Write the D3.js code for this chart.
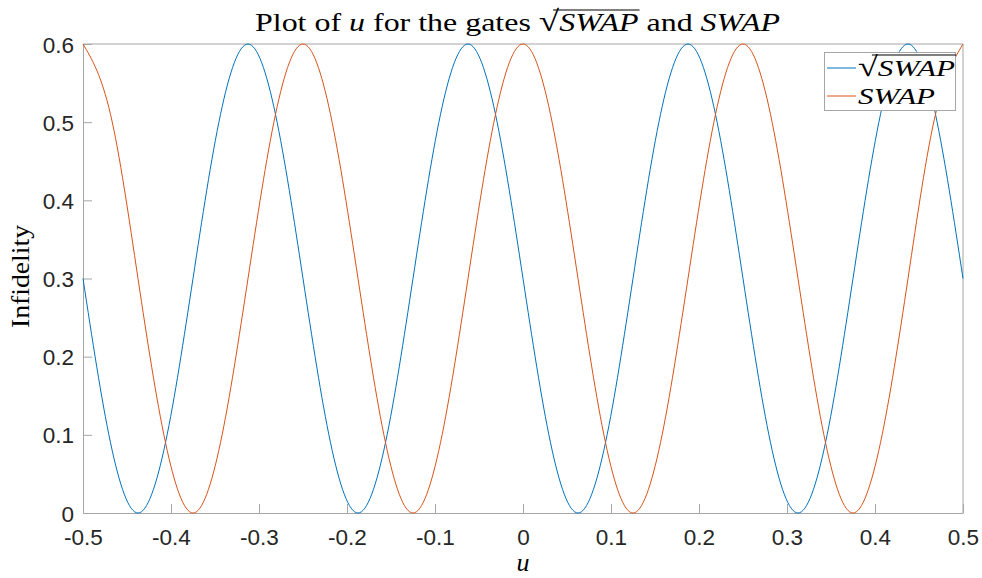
<!DOCTYPE html>
<html>
<head>
<meta charset="utf-8">
<script src="https://cdn.jsdelivr.net/npm/d3@7"></script>
<style>
  body { margin: 0; background: #fff; }
  svg { display: block; }
</style>
</head>
<body>
<div id="chart"></div>
<script>
// values, one sample every 1/32 of u
const uValues = d3.range(33).map((i) => -0.5 + i / 32);
const sqrtSwapValues = [
  0.3, 0.09, 0, 0.09, 0.3, 0.51, 0.6, 0.51,
  0.3, 0.09, 0, 0.09, 0.3, 0.51, 0.6, 0.51,
  0.3, 0.09, 0, 0.09, 0.3, 0.51, 0.6, 0.51,
  0.3, 0.09, 0, 0.09, 0.3, 0.51, 0.6, 0.51,
  0.3
];
const swapValues = [
  0.6, 0.51, 0.3, 0.09, 0, 0.09, 0.3, 0.51,
  0.6, 0.51, 0.3, 0.09, 0, 0.09, 0.3, 0.51,
  0.6, 0.51, 0.3, 0.09, 0, 0.09, 0.3, 0.51,
  0.6, 0.51, 0.3, 0.09, 0, 0.09, 0.3, 0.51,
  0.6
];
const xTicks = [-0.5, -0.4, -0.3, -0.2, -0.1, 0, 0.1, 0.2, 0.3, 0.4, 0.5];
const yTicks = [0, 0.1, 0.2, 0.3, 0.4, 0.5, 0.6];

const width = 982;
const height = 578;
const margin = { top: 44, right: 19, bottom: 65, left: 83 };
const serif = "'Liberation Serif', 'Times New Roman', serif";
const sans = "'Liberation Sans', Arial, sans-serif";
const grey = '#a6a6a6';

const svg = d3
  .select('#chart')
  .append('svg')
  .attr('width', width)
  .attr('height', height);

const x = d3.scaleLinear().domain([-0.5, 0.5]).range([margin.left, width - margin.right]);
const y = d3.scaleLinear().domain([0, 0.6]).range([height - margin.bottom, margin.top]);

// matlab style labels: hyphen minus, plain 0
const fmt = (d) => (d === 0 ? '0' : d3.format('.1f')(d).replace('\u2212', '-'));

// box top and right
svg
  .append('path')
  .attr('d', `M${x(-0.5)},${y(0.6)}H${x(0.5)}V${y(0)}`)
  .attr('fill', 'none')
  .attr('stroke', grey)
  .attr('stroke-width', 1);

// axes with ticks pointing inward
const xAxis = svg
  .append('g')
  .attr('transform', `translate(0,${y(0)})`)
  .call(d3.axisBottom(x).tickValues(xTicks).tickSizeInner(-9).tickSizeOuter(0).tickPadding(16).tickFormat(fmt));

const yAxis = svg
  .append('g')
  .attr('transform', `translate(${x(-0.5)},0)`)
  .call(d3.axisLeft(y).tickValues(yTicks).tickSizeInner(-9).tickSizeOuter(0).tickPadding(9).tickFormat(fmt));

[xAxis, yAxis].forEach((a) => {
  a.select('.domain').attr('stroke', grey);
  a.selectAll('.tick line').attr('stroke', grey);
  a.selectAll('.tick text')
    .attr('font-family', sans)
    .attr('font-size', 22.5)
    .attr('fill', '#262626');
});
yAxis.selectAll('.tick text').attr('dy', '0.36em');

// curves
const line = (vals) =>
  d3
    .line()
    .x((d, i) => x(uValues[i]))
    .y((d) => y(d))
    .curve(d3.curveNatural)(vals);

svg
  .append('path')
  .attr('d', line(sqrtSwapValues))
  .attr('fill', 'none')
  .attr('stroke', '#0072BD')
  .attr('stroke-width', 1);

svg
  .append('path')
  .attr('d', line(swapValues))
  .attr('fill', 'none')
  .attr('stroke', '#D95319')
  .attr('stroke-width', 1);

// draws the overbar of a square root, from the radical to the end of the radicand
function overbar(g, textNode, from, to, barY) {
  const s = textNode.getStartPositionOfChar(from).x;
  const e = textNode.getEndPositionOfChar(from).x;
  const x2 = textNode.getEndPositionOfChar(to).x + 1;
  g.append('line')
    .attr('x1', s + 0.5 * (e - s) + 4)
    .attr('x2', x2)
    .attr('y1', barY)
    .attr('y2', barY)
    .attr('stroke', '#000')
    .attr('stroke-width', 1.1);
}

// title
const titleParts = [
  { t: 'Plot of ', it: false },
  { t: 'u', it: true },
  { t: ' for the gates ', it: false },
  { t: '\u221A', it: false, big: true },
  { t: 'SWAP', it: true },
  { t: ' and ', it: false },
  { t: 'SWAP', it: true }
];
const title = svg.append('g');
const tt = title
  .append('text')
  .attr('x', 255)
  .attr('y', 31)
  .attr('font-family', serif)
  .attr('font-size', 25)
  .attr('fill', '#000')
  .attr('textLength', 525)
  .attr('lengthAdjust', 'spacingAndGlyphs');
titleParts.forEach((p) => {
  const s = tt.append('tspan').text(p.t);
  if (p.it) s.attr('font-style', 'italic');
  if (p.big) s.attr('font-size', 29);
});
const titleText = titleParts.map((p) => p.t).join('');
const rootIdx = titleText.indexOf('\u221A');
overbar(title, tt.node(), rootIdx, rootIdx + 4, 10);

// axis labels
svg
  .append('text')
  .attr('x', (x(-0.5) + x(0.5)) / 2)
  .attr('y', 571)
  .attr('text-anchor', 'middle')
  .attr('font-family', serif)
  .attr('font-style', 'italic')
  .attr('font-size', 26)
  .text('u');

svg
  .append('text')
  .attr('transform', `translate(29,${(y(0) + y(0.6)) / 2 - 2}) rotate(-90)`)
  .attr('x', -51.5)
  .attr('font-family', serif)
  .attr('font-size', 25)
  .attr('textLength', 103)
  .attr('lengthAdjust', 'spacingAndGlyphs')
  .text('Infidelity');

// legend
const legend = svg.append('g');
legend
  .append('rect')
  .attr('x', 824.5)
  .attr('y', 52.5)
  .attr('width', 131)
  .attr('height', 58)
  .attr('fill', '#fff')
  .attr('stroke', grey);

const legendItems = [
  { color: '#0072BD', label: '\u221ASWAP', root: true },
  { color: '#D95319', label: 'SWAP', root: false }
];
legendItems.forEach((item, i) => {
  const ly = 68 + i * 28;
  legend
    .append('line')
    .attr('x1', 827)
    .attr('x2', 856)
    .attr('y1', ly)
    .attr('y2', ly)
    .attr('stroke', item.color)
    .attr('stroke-width', 1);
  const t = legend
    .append('text')
    .attr('x', 858)
    .attr('y', ly + 8)
    .attr('font-family', serif)
    .attr('font-size', 24)
    .attr('textLength', item.root ? 97 : 77)
    .attr('lengthAdjust', 'spacingAndGlyphs');
  if (item.root) {
    t.append('tspan').attr('font-size', 28).text('\u221A');
    t.append('tspan').attr('font-style', 'italic').text('SWAP');
    overbar(legend, t.node(), 0, 4, 55);
  } else {
    t.attr('font-style', 'italic').text(item.label);
  }
});
</script>
</body>
</html>
